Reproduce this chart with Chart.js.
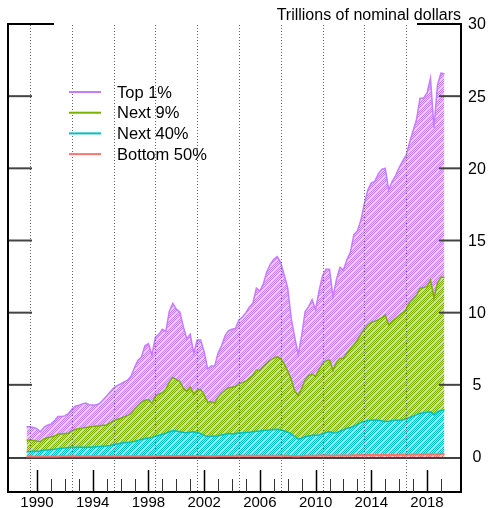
<!DOCTYPE html>
<html>
<head>
<meta charset="utf-8">
<script src="https://cdn.jsdelivr.net/npm/chart.js@4/dist/chart.umd.min.js"></script>
<style>
  html, body { margin: 0; padding: 0; background: #fff; }
  canvas { display: block; }
</style>
</head>
<body>
<canvas id="chart" width="489" height="508"></canvas>
<script>
// quarterly, 1989 Q3 .. 2019 Q3, trillions of nominal dollars per wealth group
var startYear = 1989, startQuarter = 3, nQuarters = 121;
var quarters = [];
for (var i = 0; i < nQuarters; i++) {
    var q = startQuarter - 1 + i;
    quarters.push((startYear + Math.floor(q / 4)) + ' Q' + (q % 4 + 1));
}
// horizontal position of each quarter (source plots them one quarter early)
var quarterPos = quarters.map(function (q, i) { return 1989.25 + i * 0.25; });

var groups = ['Top 1%', 'Next 9%', 'Next 40%', 'Bottom 50%'];

var top1 = [0.92,0.94,0.91,0.85,0.69,0.80,0.85,0.90,1.05,1.22,
    1.20,1.23,1.36,1.50,1.62,1.62,1.67,1.69,1.54,1.49,
    1.45,1.55,1.76,2.01,2.14,2.27,2.35,2.37,2.42,2.45,
    2.60,2.90,3.15,3.15,3.77,3.87,3.35,4.10,4.15,4.40,
    4.00,4.92,5.13,4.89,4.80,4.28,3.65,3.65,2.83,3.46,
    3.42,3.00,2.30,2.48,2.57,3.05,3.28,3.78,3.95,4.01,
    4.02,4.43,4.55,4.75,4.95,5.00,5.67,5.52,5.75,6.34,
    6.63,6.85,6.93,6.65,6.15,5.75,4.20,3.70,2.85,3.65,
    4.73,4.77,5.15,4.62,5.45,6.10,6.35,6.28,5.12,5.75,
    6.32,6.11,6.47,6.70,7.62,7.55,7.90,8.67,9.35,9.67,
    9.70,10.10,10.27,10.16,9.35,9.70,9.90,10.25,10.50,10.66,
    11.10,11.65,12.20,13.17,13.11,13.40,13.97,11.80,13.71,14.14,
    14.10];
var next9 = [0.81,0.78,0.75,0.70,0.64,0.79,0.86,0.86,0.91,1.01,
    1.00,1.00,0.99,1.13,1.23,1.29,1.33,1.38,1.40,1.41,
    1.44,1.45,1.46,1.46,1.56,1.65,1.70,1.74,1.80,1.86,
    1.96,2.22,2.40,2.56,2.66,2.66,2.36,2.77,2.85,2.89,
    3.05,3.43,3.70,3.56,3.50,3.07,2.87,3.13,2.62,2.94,
    3.06,2.80,2.39,2.39,2.28,2.68,2.90,3.04,3.18,3.24,
    3.25,3.41,3.47,3.55,3.73,3.90,4.25,4.18,4.42,4.65,
    4.84,4.95,5.03,4.92,4.65,4.23,3.80,3.18,3.01,3.45,
    3.94,4.19,4.25,4.08,4.53,4.85,4.95,4.97,4.32,4.87,
    5.05,4.96,5.20,5.45,5.66,5.85,6.12,6.42,6.63,6.78,
    6.84,6.96,7.15,7.38,6.67,6.88,7.06,7.25,7.44,7.59,
    7.96,8.12,8.28,8.66,8.68,8.70,9.13,8.09,8.90,9.23,
    9.19];
var next40 = [0.33,0.34,0.35,0.36,0.38,0.42,0.45,0.48,0.50,0.53,
    0.55,0.57,0.60,0.62,0.62,0.62,0.62,0.62,0.63,0.65,
    0.66,0.67,0.69,0.71,0.75,0.80,0.85,0.90,0.93,0.96,
    0.98,1.02,1.09,1.16,1.21,1.26,1.30,1.36,1.43,1.49,
    1.58,1.68,1.75,1.73,1.68,1.63,1.61,1.65,1.68,1.63,
    1.55,1.43,1.35,1.37,1.39,1.40,1.45,1.51,1.55,1.53,
    1.55,1.58,1.60,1.62,1.64,1.67,1.69,1.71,1.74,1.76,
    1.79,1.81,1.83,1.79,1.71,1.64,1.53,1.36,1.18,1.23,
    1.32,1.37,1.41,1.41,1.42,1.50,1.60,1.65,1.57,1.58,
    1.68,1.78,1.88,1.94,2.00,2.13,2.25,2.33,2.38,2.41,
    2.42,2.40,2.36,2.32,2.35,2.38,2.40,2.40,2.41,2.49,
    2.58,2.66,2.75,2.85,2.89,2.91,2.95,2.74,2.95,3.02,
    3.06];
var bottom50 = [0.04,0.04,0.04,0.04,0.04,0.04,0.04,0.04,0.04,0.04,
    0.05,0.05,0.05,0.05,0.05,0.05,0.05,0.05,0.05,0.05,
    0.05,0.05,0.05,0.05,0.05,0.05,0.05,0.05,0.05,0.05,
    0.06,0.06,0.06,0.06,0.06,0.06,0.06,0.07,0.07,0.07,
    0.07,0.07,0.07,0.07,0.07,0.07,0.07,0.07,0.07,0.07,
    0.07,0.07,0.06,0.06,0.06,0.07,0.07,0.07,0.07,0.07,
    0.08,0.08,0.08,0.08,0.08,0.08,0.09,0.09,0.09,0.09,
    0.09,0.09,0.09,0.09,0.09,0.08,0.07,0.06,0.06,0.07,
    0.08,0.09,0.09,0.09,0.10,0.10,0.10,0.10,0.09,0.10,
    0.10,0.10,0.11,0.11,0.12,0.12,0.13,0.13,0.14,0.14,
    0.14,0.14,0.14,0.14,0.13,0.14,0.14,0.15,0.15,0.16,
    0.16,0.17,0.17,0.18,0.18,0.19,0.19,0.17,0.19,0.20,
    0.20];

var yTicks = [0, 5, 10, 15, 20, 25, 30];
var yearTicks = [];
for (var yr = 1990; yr <= 2019; yr++) yearTicks.push(yr);
var yearLabels = [1990, 1994, 1998, 2002, 2006, 2010, 2014, 2018];
var guideYears = [1989.5, 1992.5, 1995.5, 1998.5, 2001.5, 2004.5, 2007.5, 2010.5, 2013.5, 2016.5];

var colors = ['#C77CFF', '#7CAE00', '#00BFC4', '#F8766D'];
var FONT = '"Liberation Sans", Arial, Helvetica, sans-serif';

// fine checkerboard with light diagonal bands, like the original fill
function hatch(hex) {
    var n = 8;
    var c = document.createElement('canvas');
    c.width = n; c.height = n;
    var g = c.getContext('2d');
    var rgb = [parseInt(hex.slice(1, 3), 16), parseInt(hex.slice(3, 5), 16), parseInt(hex.slice(5, 7), 16)];
    var img = g.createImageData(n, n);
    for (var y = 0; y < n; y++) {
        for (var x = 0; x < n; x++) {
            var k = (x + y) % n;
            var solid = k === 2 || k === 4 || k === 6;
            var o = (y * n + x) * 4;
            for (var ch = 0; ch < 3; ch++) {
                img.data[o + ch] = solid ? rgb[ch] : Math.round(rgb[ch] * 0.4 + 255 * 0.6);
            }
            img.data[o + 3] = 255;
        }
    }
    g.putImageData(img, 0, 0);
    return g.createPattern(c, 'repeat');
}

function pts(values) {
    return values.map(function (v, i) { return { x: quarterPos[i], y: v }; });
}

var series = [bottom50, next40, next9, top1];
var order = [3, 2, 1, 0]; // index into groups/colors, stacked from the bottom

function line(ctx, x1, y1, x2, y2) {
    ctx.beginPath(); ctx.moveTo(x1, y1); ctx.lineTo(x2, y2); ctx.stroke();
}

var axesPlugin = {
    id: 'axes',
    beforeDatasetsDraw: function (chart) {
        // zero line sits just under the bottom band
        var ctx = chart.ctx, a = chart.chartArea;
        var y0 = chart.scales.y.getPixelForValue(0);
        ctx.save();
        ctx.strokeStyle = '#000';
        ctx.lineWidth = 1.5;
        line(ctx, a.left, y0 + 1, a.right, y0 + 1);
        ctx.restore();
    },
    afterDatasetsDraw: function (chart) {
        var ctx = chart.ctx, a = chart.chartArea;
        var xs = chart.scales.x, ys = chart.scales.y;
        ctx.save();

        // dotted vertical guides
        ctx.strokeStyle = '#666';
        ctx.lineWidth = 1;
        ctx.setLineDash([1, 2]);
        guideYears.forEach(function (g) {
            var px = Math.round(xs.getPixelForValue(g)) + 0.5;
            line(ctx, px, a.top + 1, px, a.bottom);
        });
        ctx.setLineDash([]);

        // inward y ticks on both sides
        ctx.strokeStyle = '#444';
        ctx.lineWidth = 2;
        yTicks.forEach(function (t) {
            if (t === 0 || t === 30) return;
            var py = ys.getPixelForValue(t);
            line(ctx, a.left, py, a.left + 24, py);
            line(ctx, a.right - 22, py, a.right, py);
        });
        ctx.strokeStyle = '#000';
        var pTop = ys.getPixelForValue(30);
        line(ctx, a.left - 1, pTop, a.left + 46, pTop);
        line(ctx, a.right - 44, pTop, a.right + 1, pTop);

        // frame: left, right, bottom
        line(ctx, a.left, pTop, a.left, a.bottom + 1);
        line(ctx, a.right, pTop, a.right, a.bottom + 1);
        line(ctx, a.left, a.bottom, a.right, a.bottom);

        // year ticks, pointing up
        yearTicks.forEach(function (yr) {
            var px = Math.round(xs.getPixelForValue(yr)) + 0.5;
            var major = yearLabels.indexOf(yr) >= 0;
            ctx.strokeStyle = major ? '#000' : '#333';
            ctx.lineWidth = major ? 1.5 : 1;
            line(ctx, px, a.bottom, px, a.bottom - (major ? 22 : 13));
        });

        // labels
        ctx.fillStyle = '#000';
        ctx.font = '15px ' + FONT;
        ctx.textAlign = 'center';
        ctx.textBaseline = 'alphabetic';
        yearLabels.forEach(function (yr) {
            ctx.fillText(String(yr), xs.getPixelForValue(yr), 507);
        });
        ctx.font = '16px ' + FONT;
        ctx.textBaseline = 'middle';
        yTicks.forEach(function (t) {
            ctx.fillText(String(t), a.right + 16, ys.getPixelForValue(t) + 1);
        });

        // title
        ctx.textAlign = 'right';
        ctx.textBaseline = 'alphabetic';
        ctx.fillText('Trillions of nominal dollars', a.right, 20);

        // legend
        ctx.font = '16.5px ' + FONT;
        ctx.textAlign = 'left';
        ctx.textBaseline = 'middle';
        groups.forEach(function (name, k) {
            var ly = 92 + k * 20.7;
            ctx.strokeStyle = colors[k];
            ctx.lineWidth = 2;
            line(ctx, 69, ly, 101, ly);
            ctx.fillStyle = '#000';
            ctx.fillText(name, 117, ly + 1);
        });
        ctx.restore();
    }
};

var datasets = order.map(function (k, j) {
    return {
        label: groups[k],
        data: pts(series[j]),
        borderColor: colors[k],
        borderWidth: j === 0 ? 2 : 1.5,
        backgroundColor: hatch(colors[k]),
        fill: j === 0 ? 'origin' : '-1',
        pointRadius: 0,
        tension: 0
    };
});

var ctx = document.getElementById('chart').getContext('2d');
var myChart = new Chart(ctx, {
    type: 'line',
    data: { datasets: datasets },
    options: {
        responsive: false,
        animation: false,
        devicePixelRatio: 1,
        layout: { padding: { left: 8, top: 24, right: 28, bottom: 16 } },
        plugins: { legend: { display: false }, tooltip: { enabled: false } },
        scales: {
            x: { type: 'linear', min: 1987.918, max: 2020.44, display: false },
            y: { stacked: true, min: -2.425, max: 30, display: false }
        }
    },
    plugins: [axesPlugin]
});
</script>
</body>
</html>
